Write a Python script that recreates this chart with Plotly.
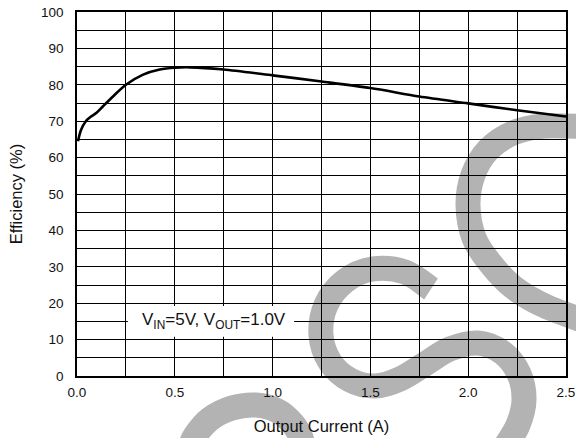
import plotly.graph_objects as go

# ---- data ----
current_a = [0.005, 0.02, 0.045, 0.07, 0.1, 0.133, 0.184, 0.25, 0.338, 0.423,
             0.5, 0.58, 0.75, 1.0, 1.25, 1.5, 1.75, 2.0, 2.25, 2.5]
efficiency_pct = [64.5, 67.5, 70.0, 71.2, 72.3, 74.1, 76.8, 80.0, 82.8, 84.2,
                  84.7, 84.8, 84.2, 82.6, 80.9, 79.1, 76.8, 74.9, 73.0, 71.3]
x_tick_vals = [0.0, 0.5, 1.0, 1.5, 2.0, 2.5]
x_tick_text = ["0.0", "0.5", "1.0", "1.5", "2.0", "2.5"]
y_tick_vals = [0, 10, 20, 30, 40, 50, 60, 70, 80, 90, 100]
condition_label = "V<sub>IN</sub>=5V, V<sub>OUT</sub>=1.0V"

# ---- layout geometry ----
W, H = 576, 438
PLOT_L, PLOT_T, PLOT_R, PLOT_B = 77, 12, 566, 376   # window pixels
ML, MT = PLOT_L, PLOT_T
PW, PH = PLOT_R - PLOT_L, PLOT_B - PLOT_T
MR, MB = W - ML - PW, H - MT - PH
FONT = "Liberation Sans, Arial, Helvetica, sans-serif"


def to_paper(px, py):
    return (px - PLOT_L) / PW, (PLOT_B - py) / PH


def smooth_path(pts):
    P = [to_paper(*p) for p in pts]
    d = f"M {P[0][0]:.4f},{P[0][1]:.4f}"
    n = len(P)
    for i in range(n - 1):
        p0 = P[i - 1] if i > 0 else P[i]
        p1, p2 = P[i], P[i + 1]
        p3 = P[i + 2] if i + 2 < n else P[i + 1]
        c1 = (p1[0] + (p2[0] - p0[0]) / 6, p1[1] + (p2[1] - p0[1]) / 6)
        c2 = (p2[0] - (p3[0] - p1[0]) / 6, p2[1] - (p3[1] - p1[1]) / 6)
        d += (f" C {c1[0]:.4f},{c1[1]:.4f} {c2[0]:.4f},{c2[1]:.4f}"
              f" {p2[0]:.4f},{p2[1]:.4f}")
    return d


# watermark stroke centerlines (window pixel positions)
wm_c = [(590, 127), (545, 126), (513, 133), (488, 150), (473, 175), (468, 205),
        (474, 238), (490, 263), (513, 287), (545, 306), (590, 323)]
wm_s = [(431, 289), (405, 272), (373, 269), (345, 281), (326, 305), (321, 335),
        (330, 362), (350, 380), (375, 386), (400, 379), (425, 364), (450, 349),
        (478, 343), (503, 353), (519, 374), (524, 400), (518, 425), (505, 447)]
wm_d = [(189, 450), (195, 436), (210, 419), (232, 408), (256, 405), (278, 411),
        (293, 424), (301, 438), (303, 450)]

shapes = []
for pts in (wm_c, wm_s, wm_d):
    shapes.append(dict(type="path", xref="paper", yref="paper",
                       path=smooth_path(pts), layer="below",
                       line=dict(color="#b3b3b3", width=25),
                       fillcolor="rgba(0,0,0,0)"))
# white box behind the condition label
shapes.append(dict(type="rect", xref="x", yref="y", x0=0.26, x1=1.11,
                   y0=10.8, y1=19.2, layer="above",
                   line=dict(width=0), fillcolor="white"))

fig = go.Figure()
fig.add_trace(go.Scatter(x=current_a, y=efficiency_pct, mode="lines",
                         line=dict(color="black", width=2.6, shape="spline",
                                   smoothing=0.8),
                         showlegend=False, hoverinfo="skip"))

axis_common = dict(showline=True, linecolor="black", linewidth=1.5, mirror=True,
                   showgrid=True, gridcolor="black", gridwidth=1,
                   zeroline=False, ticks="outside", tickcolor="rgba(0,0,0,0)",
                   ticklabeloverflow="allow",
                   tickfont=dict(family=FONT, size=13.5, color="#111"))

fig.update_xaxes(range=[0, 2.5], tickvals=x_tick_vals, ticktext=x_tick_text,
                 ticklen=3,
                 minor=dict(dtick=0.25, tick0=0, showgrid=True,
                            gridcolor="black", gridwidth=1),
                 title=dict(text="Output Current (A)", standoff=21,
                            font=dict(family=FONT, size=16.5, color="#111")),
                 **axis_common)
fig.update_yaxes(range=[0, 100], tickvals=y_tick_vals,
                 ticklen=9,
                 minor=dict(dtick=5, tick0=0, showgrid=True,
                            gridcolor="black", gridwidth=1),
                 title=dict(text="Efficiency (%)", standoff=14,
                            font=dict(family=FONT, size=16.5, color="#111")),
                 **axis_common)

fig.add_annotation(x=0.70, y=15, xref="x", yref="y", text=condition_label,
                   showarrow=False,
                   font=dict(family=FONT, size=17, color="#111"))

fig.update_layout(width=W, height=H,
                  margin=dict(l=ML, r=MR, t=MT, b=MB, autoexpand=False),
                  paper_bgcolor="white", plot_bgcolor="rgba(0,0,0,0)",
                  shapes=shapes, showlegend=False)

# remove the default 8px page margin so the figure fills the window exactly
fig.write_html("out.html",
               config={"displayModeBar": False},
               post_script="document.body.style.margin='0';"
                           "document.body.style.padding='0';")
